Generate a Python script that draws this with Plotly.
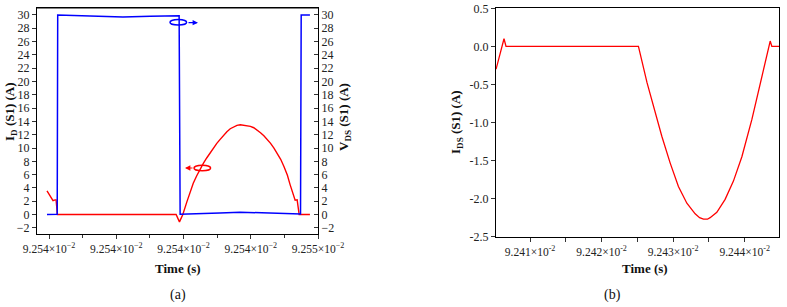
import plotly.graph_objects as go

# ---------------- data: panel (a) ----------------
# time in microseconds
a_tickvals = [92538, 92540, 92542, 92544, 92546]
a_ticktext = ["9.254×10<sup>−2</sup>", "9.254×10<sup>−2</sup>", "9.254×10<sup>−2</sup>",
              "9.254×10<sup>−2</sup>", "9.255×10<sup>−2</sup>"]
a_minor_vals = [92539, 92541, 92543, 92545]

vds_t = [92537.94, 92538.244, 92538.259, 92539.22, 92540.20, 92541.01, 92541.85,
         92541.87, 92541.90, 92542.49, 92543.08, 92543.68, 92544.27, 92544.87, 92545.46,
         92545.48, 92545.50, 92545.76]
vds_v = [0.0, 0.05, 30.0, 29.85, 29.7, 29.8, 29.95,
         29.9, 0.05, 0.1, 0.25, 0.35, 0.3, 0.2, 0.1,
         0.1, 30.0, 30.0]

id_t = [92537.94, 92538.12, 92538.18, 92538.21, 92538.25, 92541.78, 92541.88,
        92541.98, 92542.10, 92542.19, 92542.29, 92542.39, 92542.49, 92542.59,
        92542.69, 92542.79, 92542.89, 92542.99, 92543.09, 92543.19, 92543.29,
        92543.39, 92543.49, 92543.59, 92543.69, 92543.79, 92543.89, 92543.99,
        92544.09, 92544.19, 92544.29, 92544.39, 92544.49, 92544.59, 92544.69,
        92544.79, 92544.89, 92544.99, 92545.09, 92545.17, 92545.26, 92545.32,
        92545.38, 92545.44, 92545.76]
id_v = [3.55, 2.1, 2.2, 2.2, 0.0, 0.0, -1.1,
        0.0, 1.9, 3.4, 4.7, 5.8, 6.8, 7.7,
        8.5, 9.3, 10.0, 10.7, 11.3, 11.9, 12.45,
        12.9, 13.2, 13.4, 13.5, 13.45, 13.4, 13.25,
        13.05, 12.7, 12.3, 11.85, 11.35, 10.7, 10.0,
        9.2, 8.3, 7.2, 5.9, 4.5, 3.0, 2.15,
        2.2, 0.0, 0.0]

# ---------------- data: panel (b) ----------------
b_tickvals = [92410, 92420, 92430, 92440]
b_ticktext = ["9.241×10<sup>-2</sup>", "9.242×10<sup>-2</sup>",
              "9.243×10<sup>-2</sup>", "9.244×10<sup>-2</sup>"]
b_minor_vals = [92405, 92415, 92425, 92435]
b_ytickvals = [0.5, 0.0, -0.5, -1.0, -1.5, -2.0, -2.5]
b_yticktext = ["0.5", "0.0", "-0.5", "-1.0", "-1.5", "-2.0", "-2.5"]

ids_t = [92405.25, 92406.36, 92406.64, 92425.15, 92426.36, 92427.72, 92428.42,
         92429.58, 92430.74, 92431.92, 92433.08, 92433.70, 92434.24, 92434.80,
         92435.17, 92436.11, 92437.27, 92438.43, 92439.61, 92441.01, 92442.31,
         92443.57, 92443.80, 92444.82]
ids_v = [-0.30, 0.10, 0.0, 0.0, -0.48, -0.96, -1.18,
         -1.53, -1.84, -2.06, -2.20, -2.25, -2.27, -2.27,
         -2.25, -2.18, -2.01, -1.77, -1.45, -0.96, -0.45,
         0.07, 0.0, 0.0]

FONT = "Liberation Serif"
W, H = 787, 307

def px2x(p):
    return p / W

def py2y(p):
    return 1 - p / H

fig = go.Figure()
fig.add_trace(go.Scatter(x=id_t, y=id_v, mode="lines", line=dict(color="#FF0000", width=1.4),
                         xaxis="x", yaxis="y", showlegend=False))
fig.add_trace(go.Scatter(x=vds_t, y=vds_v, mode="lines", line=dict(color="#0000FF", width=1.5),
                         xaxis="x", yaxis="y2", showlegend=False))
fig.add_trace(go.Scatter(x=ids_t, y=ids_v, mode="lines", line=dict(color="#FF0000", width=1.3),
                         xaxis="x2", yaxis="y3", showlegend=False))

tickfont = dict(family=FONT, size=12, color="#222")
xtickfont = dict(family=FONT, size=11.5, color="#222")
axcommon = dict(showgrid=False, zeroline=False, showline=True, linecolor="#000", linewidth=1,
                tickcolor="#333", ticklen=4, automargin=False)

a_xr = [92538 - 0.357, 92546.0]
a_yr = [-2.97, 31.05]
b_xr = [92410 - 4.76, 92410 + 34.8]
b_yr = [-2.5, 0.5]

fig.update_layout(
    width=W, height=H, margin=dict(l=0, r=0, t=0, b=0, autoexpand=False),
    paper_bgcolor="white", plot_bgcolor="white",
    xaxis=dict(domain=[px2x(37), px2x(318)], range=a_xr, anchor="y", mirror=True,
               tickmode="array", tickvals=a_tickvals, ticktext=a_ticktext, ticks="outside",
               tickfont=xtickfont,
               minor=dict(tickmode="array", tickvals=a_minor_vals, ticks="outside", ticklen=3,
                          tickcolor="#333"),
               **axcommon),
    yaxis=dict(domain=[py2y(234.3), py2y(8)], range=a_yr, anchor="x", mirror=False,
               tickmode="array", tickvals=list(range(-2, 31, 2)), ticks="outside",
               tickfont=tickfont, **axcommon),
    yaxis2=dict(domain=[py2y(234.3), py2y(8)], range=a_yr, anchor="x", overlaying="y",
                side="right", tickmode="array", tickvals=list(range(-2, 31, 2)),
                ticks="inside", tickfont=tickfont, **axcommon),
    xaxis2=dict(domain=[px2x(496), px2x(779)], range=b_xr, anchor="y3", mirror=True,
                tickmode="array", tickvals=b_tickvals, ticktext=b_ticktext, ticks="outside",
                tickfont=xtickfont,
                minor=dict(tickmode="array", tickvals=b_minor_vals, ticks="outside", ticklen=4,
                           tickcolor="#333"),
                **axcommon),
    yaxis3=dict(domain=[py2y(236.7), py2y(8.3)], range=b_yr, anchor="x2", mirror=True,
                tickmode="array", tickvals=b_ytickvals, ticktext=b_yticktext, ticks="outside",
                tickfont=tickfont, **axcommon),
)
# top border for panel (a)
fig.add_shape(type="line", xref="paper", yref="paper", x0=px2x(37), x1=px2x(318),
              y0=py2y(8), y1=py2y(8), line=dict(color="#000", width=1))

# ellipse markers + arrows in panel (a)
def tx(p):
    return 92538 + (p - 49) * 2 / 67.25

fig.add_shape(type="circle", xref="x", yref="y", xsizemode="pixel", ysizemode="pixel",
              xanchor=tx(178.3), yanchor=28.9, x0=-8.3, x1=8.3, y0=-2.8, y1=2.8,
              line=dict(color="#0000FF", width=1.5))
fig.add_shape(type="circle", xref="x", yref="y", xsizemode="pixel", ysizemode="pixel",
              xanchor=tx(202.3), yanchor=7.0, x0=-8.3, x1=8.3, y0=-2.8, y1=2.8,
              line=dict(color="#FF0000", width=1.5))
fig.add_annotation(x=tx(198), y=28.85, xref="x", yref="y", ax=-11, ay=0, text="",
                   showarrow=True, arrowhead=2, arrowsize=0.9, arrowwidth=1.2, arrowcolor="#0000FF")
fig.add_annotation(x=tx(185), y=7.0, xref="x", yref="y", ax=9, ay=0, text="",
                   showarrow=True, arrowhead=2, arrowsize=0.9, arrowwidth=1.2, arrowcolor="#FF0000")

def ann(text, x, y, angle=0, size=13):
    fig.add_annotation(text=text, x=px2x(x), y=py2y(y), xref="paper", yref="paper",
                       showarrow=False, textangle=angle, xanchor="center", yanchor="middle",
                       font=dict(family=FONT, size=size, color="#111"))

ann("<b>I<sub>D</sub> (S1) (A)</b>", 11, 112, -90)
ann("<b>V<sub>DS</sub> (S1) (A)</b>", 345, 117, -90)
ann("<b>Time (s)</b>", 178, 268)
ann("(a)", 178, 295, size=14)
ann("<b>I<sub>DS</sub> (S1) (A)</b>", 457, 122, -90)
ann("<b>Time (s)</b>", 645, 268)
ann("(b)", 612, 295, size=14)

fig.write_html("out.html")
